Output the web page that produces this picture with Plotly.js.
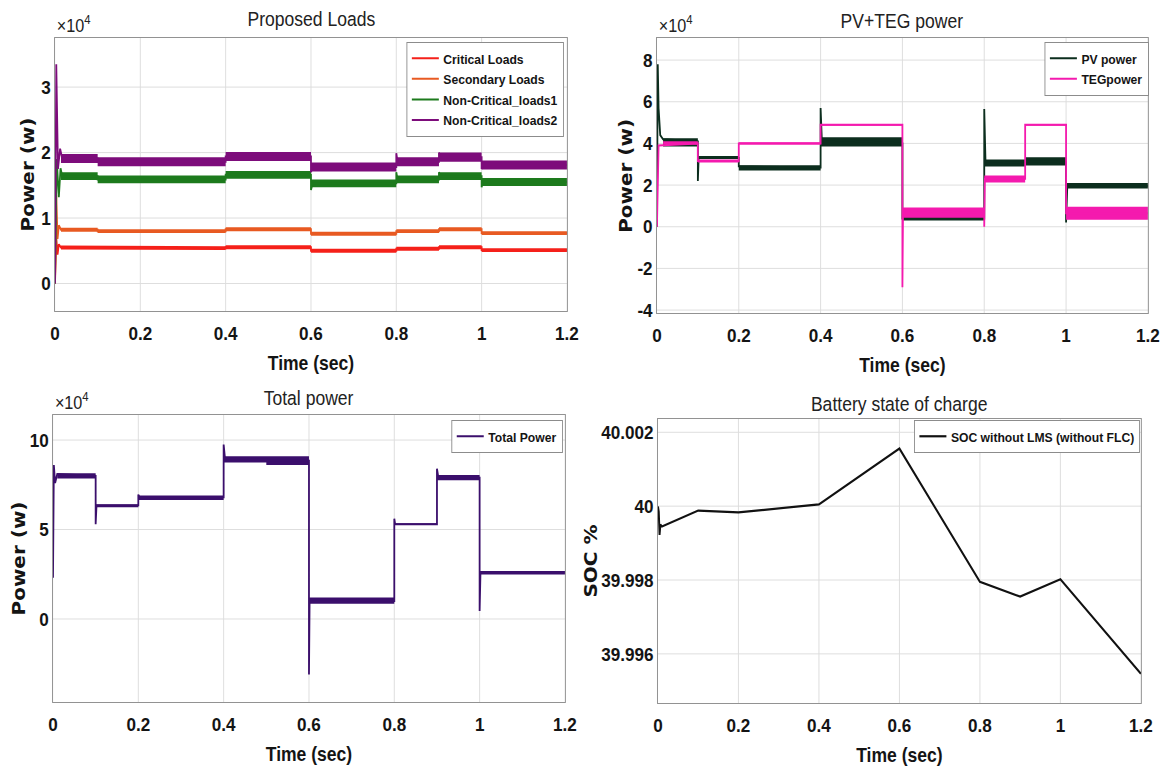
<!DOCTYPE html>
<html>
<head>
<meta charset="utf-8">
<script src="https://cdn.plot.ly/plotly-3.0.1.min.js"></script>
<style>
  html, body { margin: 0; padding: 0; background: #fff; overflow: hidden; }
  /* the figure is laid out wide and narrowed horizontally as a whole */
  #chart { width: 1291px; height: 770px; transform: scaleX(0.9); transform-origin: 0 0; }
</style>
</head>
<body>
<div id="chart"></div>
<script>
// ---------- shared time axis ----------
const timeTicks    = [0, 0.2, 0.4, 0.6, 0.8, 1, 1.2];
const timeTickText = ['0', '0.2', '0.4', '0.6', '0.8', '1', '1.2'];

// ---------- Proposed Loads (W) ----------
// ripple band per switching interval
const loadEdges = [0.014, 0.1, 0.4, 0.6, 0.8, 0.9, 1.0, 1.2];
const critLo = [5200, 5100, 5250, 4700, 5000, 5250, 4800];
const critHi = [5800, 5700, 5850, 5300, 5600, 5850, 5400];
const secLo  = [7900, 7700, 8000, 7300, 7700, 8000, 7400];
const secHi  = [8500, 8300, 8600, 7900, 8300, 8600, 8000];
const nc1Lo  = [15800, 15300, 16000, 14700, 15300, 15800, 14900];
const nc1Hi  = [17000, 16500, 17200, 15900, 16500, 17000, 16100];
const nc2Lo  = [18400, 17900, 18700, 17100, 17900, 18600, 17400];
const nc2Hi  = [19800, 19300, 20100, 18500, 19300, 20000, 18800];
// traced signal incl. start-up transient
const critT = [0, 0.003, 0.006, 0.009, 0.014, 0.1, 0.1, 0.4, 0.4, 0.6, 0.6, 0.8, 0.8, 0.9, 0.9, 1.0, 1.0, 1.2];
const critP = [0, 7000, 4400, 6000, 5500, 5500, 5400, 5400, 5550, 5550, 5000, 5000, 5300, 5300, 5550, 5550, 5100, 5100];
const secT  = [0, 0.003, 0.006, 0.009, 0.014, 0.1, 0.1, 0.4, 0.4, 0.6, 0.6, 0.8, 0.8, 0.9, 0.9, 1.0, 1.0, 1.2];
const secP  = [0, 13500, 6800, 8900, 8200, 8200, 8000, 8000, 8300, 8300, 7600, 7600, 8000, 8000, 8300, 8300, 7700, 7700];
const nc1T  = [0, 0.004, 0.009, 0.013, 0.017, 0.1, 0.1, 0.4, 0.4, 0.6, 0.6, 0.604, 0.8, 0.8, 0.803, 0.9, 0.9, 0.903, 1.0, 1.0, 1.003, 1.2];
const nc1P  = [0, 19000, 13200, 17600, 16400, 16400, 15900, 15900, 16600, 16600, 14300, 15300, 15300, 17000, 15900, 15900, 17000, 16400, 16400, 14700, 15500, 15500];
const nc2T  = [0, 0.003, 0.007, 0.012, 0.017, 0.1, 0.1, 0.4, 0.4, 0.6, 0.6, 0.604, 0.8, 0.8, 0.803, 0.9, 0.9, 0.903, 1.0, 1.0, 1.003, 1.2];
const nc2P  = [0, 33500, 17500, 20600, 19100, 19100, 18600, 18600, 19400, 19400, 17000, 17800, 17800, 19900, 18600, 18600, 20000, 19300, 19300, 17500, 18100, 18100];

// ---------- PV + TEG power (W) ----------
const genEdges = [0.015, 0.1, 0.2, 0.4, 0.6, 0.8, 0.9, 1.0, 1.2];
const pvLo  = [38500, 32500, 27000, 38500, 3000, 28900, 29400, 18300];
const pvHi  = [42500, 34000, 29500, 43000, 5000, 32300, 33300, 21000];
const tegLo = [39500, 30800, 39500, 48500, 4300, 21200, 48500, 3400];
const tegHi = [41000, 32300, 40500, 49300, 9200, 24600, 49300, 9600];
const pvT  = [0, 0.002, 0.004, 0.008, 0.015, 0.1, 0.1, 0.102, 0.2, 0.2, 0.4, 0.4, 0.403, 0.6, 0.6, 0.8, 0.8, 0.803, 0.9, 0.9, 1.0, 1.0, 1.003, 1.2];
const pvP  = [0, 78000, 57000, 44000, 42000, 41000, 22000, 33500, 33000, 29000, 28500, 57000, 42000, 40000, 4000, 4000, 56500, 31500, 30500, 31500, 31000, 2000, 19600, 19600];
const tegT = [0, 0.004, 0.1, 0.1, 0.2, 0.2, 0.4, 0.4, 0.6, 0.6, 0.6015, 0.8, 0.8, 0.8015, 0.9, 0.9, 1.0, 1.0, 1.2];
const tegP = [0, 39000, 40000, 31500, 31500, 40000, 40000, 49000, 49000, -29000, 8000, 6500, 0, 23000, 23000, 49000, 49000, 6500, 6500];

// ---------- Total power (W) ----------
const totEdges = [0.01, 0.1, 0.2, 0.4, 0.5, 0.6, 0.8, 0.9, 1.0, 1.2];
const totLo = [78500, 62500, 66500, 87500, 86000, 8500, 52500, 77500, 24800];
const totHi = [81500, 64000, 69000, 91000, 91000, 12000, 53500, 80500, 26800];
const totT = [0, 0.002, 0.005, 0.01, 0.1, 0.1, 0.102, 0.2, 0.2, 0.203, 0.4, 0.4, 0.403, 0.5, 0.5, 0.6, 0.6, 0.6015, 0.8, 0.8, 0.802, 0.9, 0.9, 0.903, 1.0, 1.0, 1.002, 1.2];
const totP = [23000, 86000, 76000, 81000, 80000, 53000, 63500, 63500, 69500, 68000, 68000, 97500, 90000, 89000, 88500, 88500, -31000, 11000, 10000, 56000, 53000, 53000, 84000, 79500, 79000, 4500, 26000, 26000];

// ---------- Battery state of charge (%) ----------
const socT = [0, 0.002, 0.004, 0.006, 0.01, 0.1, 0.2, 0.4, 0.6, 0.8, 0.9, 1.0, 1.2];
const socV = [39.99999, 39.99985, 39.99922, 39.9995, 39.99945, 39.99988, 39.99983, 40.00005, 40.00156, 39.99795, 39.99755, 39.99802, 39.99546];

// ---------- styling ----------
const SANS = '"Liberation Sans", Arial, sans-serif';
const WIDE = '"DejaVu Sans", "Liberation Sans", sans-serif';
const INK = '#141414';
const C = {
  crit: '#f5201a', sec: '#e85a22', nc1: '#1d7a1d', nc2: '#7d0c7b',
  pv: '#0c2e1e', teg: '#f41aae', tot: '#3b0f6c', soc: '#111111'
};

function bandPath(edges, lo, hi) {
  const x = [], y = [];
  for (let i = 0; i < lo.length; i++) { x.push(edges[i], edges[i + 1]); y.push(hi[i], hi[i]); }
  for (let i = lo.length - 1; i >= 0; i--) { x.push(edges[i + 1], edges[i]); y.push(lo[i], lo[i]); }
  return { x, y };
}
function band(edges, lo, hi, color, ax) {
  const p = bandPath(edges, lo, hi);
  return { type: 'scatter', mode: 'lines', x: p.x, y: p.y, fill: 'toself', fillcolor: color,
           line: { width: 0, color }, showlegend: false, hoverinfo: 'skip', xaxis: 'x' + ax, yaxis: 'y' + ax };
}
function line(x, y, name, color, ax, legend, w) {
  return { type: 'scatter', mode: 'lines', x, y, name, line: { color, width: w || 2 },
           xaxis: 'x' + ax, yaxis: 'y' + ax, legend };
}

const traces = [
  band(loadEdges, critLo, critHi, C.crit, ''), line(critT, critP, 'Critical Loads', C.crit, '', 'legend'),
  band(loadEdges, secLo, secHi, C.sec, ''),    line(secT, secP, 'Secondary Loads', C.sec, '', 'legend'),
  band(loadEdges, nc1Lo, nc1Hi, C.nc1, ''),    line(nc1T, nc1P, 'Non-Critical_loads1', C.nc1, '', 'legend'),
  band(loadEdges, nc2Lo, nc2Hi, C.nc2, ''),    line(nc2T, nc2P, 'Non-Critical_loads2', C.nc2, '', 'legend'),

  band(genEdges, pvLo, pvHi, C.pv, '2'),       line(pvT, pvP, 'PV power', C.pv, '2', 'legend2'),
  band(genEdges, tegLo, tegHi, C.teg, '2'),    line(tegT, tegP, 'TEGpower', C.teg, '2', 'legend2'),

  band(totEdges, totLo, totHi, C.tot, '3'),    line(totT, totP, 'Total Power', C.tot, '3', 'legend3'),

  line(socT, socV, 'SOC without LMS (without FLC)', C.soc, '4', 'legend4', 2.2)
];

const tickFont = { family: SANS, size: 19, weight: 'bold', color: INK };

function xAxis(domain, anchor) {
  return {
    domain, anchor, range: [0, 1.2], tickmode: 'array', tickvals: timeTicks, ticktext: timeTickText,
    showline: true, mirror: true, linecolor: '#8c8c8c', linewidth: 1,
    showgrid: true, gridcolor: '#dcdcdc', gridwidth: 1, zeroline: false, ticks: '',
    tickfont: tickFont, ticklabelstandoff: 5, fixedrange: true,
    title: { text: 'Time (sec)', font: { family: SANS, size: 19.5, weight: 'bold', color: INK }, standoff: 13 }
  };
}
function yAxis(domain, anchor, range, vals, text) {
  return {
    domain, anchor, range, tickmode: 'array', tickvals: vals, ticktext: text,
    showline: true, mirror: true, linecolor: '#8c8c8c', linewidth: 1,
    showgrid: true, gridcolor: '#dcdcdc', gridwidth: 1, zeroline: false, ticks: '',
    tickfont: tickFont, ticklabelstandoff: 0, fixedrange: true
  };
}

const W = 1162, H = 770;          // visible size
const WU = W / 0.9;               // laid-out width before horizontal narrowing
const px = (a, b) => [a / W, b / W];
const py = (top, bottom) => [1 - bottom / H, 1 - top / H];

const legendBase = {
  bgcolor: '#ffffff', bordercolor: '#8c8c8c', borderwidth: 1,
  font: { family: SANS, size: 13.5, weight: 'bold', color: INK },
  xanchor: 'right', yanchor: 'top', tracegroupgap: 0, itemclick: false, itemdoubleclick: false
};

function panelTitle(ax, text, shift) {
  return { xref: 'x' + ax + ' domain', yref: 'y' + ax + ' domain', x: 0.5, y: 1, xanchor: 'center', yanchor: 'bottom',
           yshift: shift, showarrow: false, text, font: { family: SANS, size: 19.5, color: '#222' } };
}
function scaleNote(ax) {
  return { xref: 'x' + ax + ' domain', yref: 'y' + ax + ' domain', x: 0, y: 1, xanchor: 'left', yanchor: 'bottom',
           yshift: 0, showarrow: false, text: '×10<sup>4</sup>', font: { family: SANS, size: 18, color: '#222' } };
}
function yTitle(ax, xPix, text) {
  return { xref: 'paper', yref: 'y' + ax + ' domain', x: xPix / W, y: 0.5, xanchor: 'center', yanchor: 'middle',
           textangle: -90, showarrow: false, text, font: { family: WIDE, size: 20, weight: 'bold', color: INK } };
}

const layout = {
  width: WU, height: H, margin: { l: 0, r: 0, t: 0, b: 0 },
  paper_bgcolor: '#ffffff', plot_bgcolor: '#ffffff', showlegend: true,
  xaxis:  xAxis(px(55, 567), 'y'),
  yaxis:  yAxis(py(38, 311), 'x', [-4200, 37500], [0, 10000, 20000, 30000], ['0', '1', '2', '3']),
  xaxis2: xAxis(px(657, 1148), 'y2'),
  yaxis2: yAxis(py(38, 313), 'x2', [-41400, 90600], [-40000, -20000, 0, 20000, 40000, 60000, 80000],
                ['-4', '-2', '0', '2', '4', '6', '8']),
  xaxis3: xAxis(px(53, 565), 'y3'),
  yaxis3: yAxis(py(415, 702), 'x3', [-46400, 114000], [0, 50000, 100000], ['0', '5', '10']),
  xaxis4: xAxis(px(658, 1141), 'y4'),
  yaxis4: yAxis(py(419, 703), 'x4', [39.99467, 40.00236], [39.996, 39.998, 40, 40.002],
                ['39.996', '39.998', '40', '40.002']),
  legend:  Object.assign({}, legendBase, { x: 564 / W, y: 1 - 42 / H }),
  legend2: Object.assign({}, legendBase, { x: 1149 / W, y: 1 - 42 / H }),
  legend3: Object.assign({}, legendBase, { x: 563 / W, y: 1 - 420 / H }),
  legend4: Object.assign({}, legendBase, { x: 1140 / W, y: 1 - 420 / H }),
  annotations: [
    panelTitle('', 'Proposed Loads', 6),
    panelTitle('2', 'PV+TEG power', 4),
    panelTitle('3', 'Total power', 4),
    panelTitle('4', 'Battery state of charge', 2),
    scaleNote(''), scaleNote('2'), scaleNote('3'),
    yTitle('', 27, 'Power (w)'),
    yTitle('2', 625, 'Power (w)'),
    yTitle('3', 18, 'Power (w)'),
    yTitle('4', 591, 'SOC %')
  ]
};

Plotly.newPlot('chart', traces, layout, { displayModeBar: false, staticPlot: true });
</script>
</body>
</html>
